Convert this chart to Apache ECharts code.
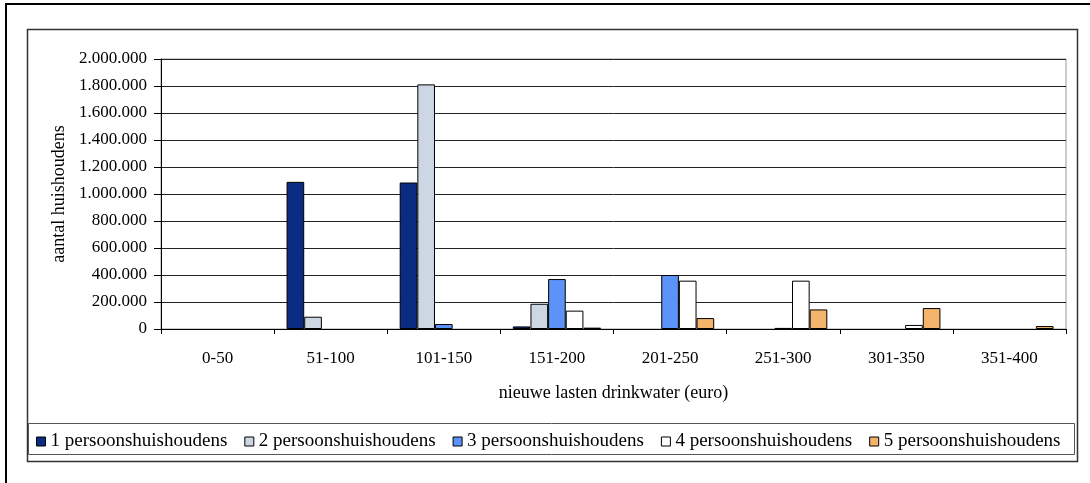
<!DOCTYPE html>
<html>
<head>
<meta charset="utf-8">
<style>
  html, body { margin: 0; padding: 0; background: #fff; }
  #chart { width: 1090px; height: 483px; }
</style>
<script src="https://cdn.jsdelivr.net/npm/echarts@6/dist/echarts.min.js"></script>
</head>
<body>
<div id="chart"></div>
<script>
// categorieen (nieuwe lasten drinkwater, euro)
var categories = ['0-50', '51-100', '101-150', '151-200', '201-250', '251-300', '301-350', '351-400'];

// aantal huishoudens per categorie
var pers1 = [0, 1090000, 1085000, 19000, 0, 0, 0, 0];
var pers2 = [0, 91000, 1812000, 187000, 0, 0, 0, 0];
var pers3 = [0, 0, 37000, 370000, 400000, 8000, 0, 0];
var pers4 = [0, 0, 0, 136000, 358000, 358000, 30000, 0];
var pers5 = [0, 0, 0, 10000, 81000, 145000, 155000, 22000];

var seriesNames = ['1 persoonshuishoudens', '2 persoonshuishoudens', '3 persoonshuishoudens',
    '4 persoonshuishoudens', '5 persoonshuishoudens'];
var seriesData = [pers1, pers2, pers3, pers4, pers5];
var colors = ['#0b2c83', '#cdd6e3', '#5b93f8', '#ffffff', '#f4b46c'];

var font = 'Liberation Serif';

// punt als duizendtal-scheiding
function fmt(v) {
    return String(v).replace(/\B(?=(\d{3})+(?!\d))/g, '.');
}

var myChart = echarts.init(document.getElementById('chart'));

var series = [];
for (var i = 0; i < seriesNames.length; i++) {
    series.push({
        name: seriesNames[i],
        type: 'bar',
        // nul-waarden niet tekenen (anders streepje op de as)
        data: seriesData[i].map(function (v) { return v === 0 ? '-' : v; }),
        barGap: '0%',
        barCategoryGap: '22%',
        itemStyle: { color: colors[i], borderColor: '#000', borderWidth: 1 },
        emphasis: { disabled: true }
    });
}

myChart.setOption({
    animation: false,
    textStyle: { fontFamily: font, color: '#000' },
    graphic: [
        // buitenste kader
        { type: 'rect', shape: { x: 6, y: 4, width: 1200, height: 600 },
          style: { fill: 'none', stroke: '#000', lineWidth: 2 }, z: -10 },
        // grafiekkader
        { type: 'rect', shape: { x: 27.5, y: 29.5, width: 1050, height: 432 },
          style: { fill: 'none', stroke: '#333', lineWidth: 1.5 }, z: -10 },
        // legendakader
        { type: 'rect', shape: { x: 28.5, y: 423.5, width: 1046, height: 31 },
          style: { fill: 'none', stroke: '#555', lineWidth: 1 }, z: -10 }
    ],
    grid: {
        left: 161, right: 24, top: 59, bottom: 154,
        show: true, borderColor: '#999', borderWidth: 1
    },
    legend: {
        data: seriesNames,
        left: 31, top: 427,
        itemWidth: 9, itemHeight: 9, itemGap: 17,
        icon: 'rect',
        itemStyle: { borderColor: '#000', borderWidth: 1 },
        textStyle: { fontFamily: font, fontSize: 19, color: '#000' },
        selectedMode: false
    },
    xAxis: {
        type: 'category',
        data: categories,
        name: 'nieuwe lasten drinkwater (euro)',
        nameLocation: 'middle',
        nameGap: 55,
        nameTextStyle: { fontFamily: font, fontSize: 18, color: '#000' },
        axisLine: { lineStyle: { color: '#000', width: 1 } },
        axisTick: { show: true, length: 5, interval: 0, lineStyle: { color: '#000' } },
        axisLabel: { fontFamily: font, fontSize: 17, color: '#000', margin: 21, interval: 0 }
    },
    yAxis: {
        type: 'value',
        min: 0, max: 2000000, interval: 200000,
        name: 'aantal huishoudens',
        nameLocation: 'middle',
        nameRotate: 90,
        nameGap: 89,
        nameTextStyle: { fontFamily: font, fontSize: 18, color: '#000' },
        axisLine: { show: true, lineStyle: { color: '#000', width: 1 } },
        axisTick: { show: true, length: 7, lineStyle: { color: '#000' } },
        axisLabel: { fontFamily: font, fontSize: 17, color: '#000', margin: 14, formatter: fmt },
        splitLine: { lineStyle: { color: '#222', width: 1 } }
    },
    series: series
});
</script>
</body>
</html>
